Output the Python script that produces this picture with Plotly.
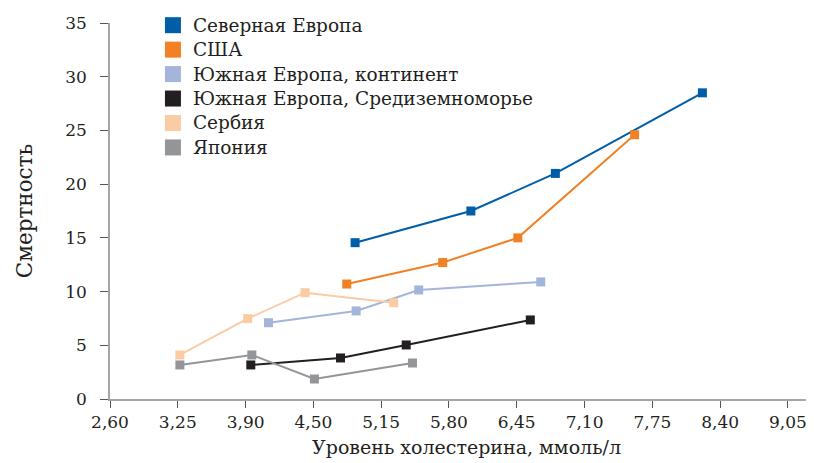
import plotly.graph_objects as go

# Data
names = ["Северная Европа", "США", "Южная Европа, континент",
         "Южная Европа, Средиземноморье", "Сербия", "Япония"]
colors = ["#005DA8", "#F28025", "#A3B5DB", "#231F20", "#FBCBA3", "#939598"]

north_x = [4.95, 6.06, 6.87, 8.28]
north_y = [14.55, 17.5, 21.0, 28.5]
usa_x = [4.87, 5.79, 6.51, 7.63]
usa_y = [10.7, 12.7, 15.0, 24.6]
south_cont_x = [4.12, 4.96, 5.56, 6.73]
south_cont_y = [7.1, 8.2, 10.15, 10.9]
south_med_x = [3.95, 4.81, 5.44, 6.63]
south_med_y = [3.17, 3.82, 5.03, 7.36]
serbia_x = [3.27, 3.92, 4.47, 5.32]
serbia_y = [4.1, 7.48, 9.9, 8.97]
japan_x = [3.27, 3.96, 4.56, 5.50]
japan_y = [3.17, 4.1, 1.86, 3.35]

xs = [north_x, usa_x, south_cont_x, south_med_x, serbia_x, japan_x]
ys = [north_y, usa_y, south_cont_y, south_med_y, serbia_y, japan_y]

x_tickvals = [2.60, 3.25, 3.90, 4.55, 5.20, 5.85, 6.50, 7.15, 7.80, 8.45, 9.10]
x_ticktext = ["2,60", "3,25", "3,90", "4,50", "5,15", "5,80", "6,45", "7,10", "7,75", "8,40", "9,05"]
y_tickvals = [0, 5, 10, 15, 20, 25, 30, 35]
x_title = "Уровень холестерина, ммоль/л"
y_title = "Смертность"

FONT = "DejaVu Serif"
TXT = "#231F20"

fig = go.Figure()
for name, c, x, y in zip(names, colors, xs, ys):
    fig.add_trace(go.Scatter(x=x, y=y, mode="lines+markers", name=name,
                             line=dict(color=c, width=2),
                             marker=dict(symbol="square", size=9, color=c),
                             showlegend=False))
for name, c in zip(names, colors):
    fig.add_trace(go.Scatter(x=[None], y=[None], mode="markers",
                             name=f'<span style="font-size:18.5px">{name}</span>',
                             marker=dict(symbol="square", size=16, color=c)))

# page body has an 8px margin: figure is 806x455 placed at (8, 8)
fig.update_layout(
    width=806, height=455,
    margin=dict(l=102, r=0, t=15, b=64, autoexpand=False),
    paper_bgcolor="white", plot_bgcolor="white",
    font=dict(family=FONT, size=18, color=TXT),
    legend=dict(x=0.061, y=1.04, xanchor="left", yanchor="top",
                bgcolor="rgba(0,0,0,0)", tracegroupgap=0,
                font=dict(family=FONT, size=16.5, color=TXT),
                itemwidth=30),
    xaxis=dict(range=[2.6, 9.35], tickvals=x_tickvals, ticktext=x_ticktext,
               showgrid=False, zeroline=False, showline=True, automargin=False,
               linecolor="#A6A6A6", linewidth=1.5,
               ticks="outside", ticklen=7, tickcolor="#555555",
               tickfont=dict(family=FONT, size=17, color=TXT)),
    yaxis=dict(range=[0, 35], tickvals=y_tickvals,
               showgrid=False, zeroline=False, showline=True, automargin=False,
               linecolor="#A6A6A6", linewidth=1.5,
               ticks="outside", ticklen=8, tickcolor="#555555",
               ticklabelstandoff=10,
               tickfont=dict(family=FONT, size=17, color=TXT),
               title=dict(text=y_title, standoff=27,
                          font=dict(family=FONT, size=21.5, color=TXT))),
    annotations=[dict(text=x_title, xref="paper", yref="paper",
                      x=0.507, y=-0.128, xanchor="center", yanchor="middle",
                      showarrow=False,
                      font=dict(family=FONT, size=19, color=TXT))],
)

fig.write_html("out.html")
